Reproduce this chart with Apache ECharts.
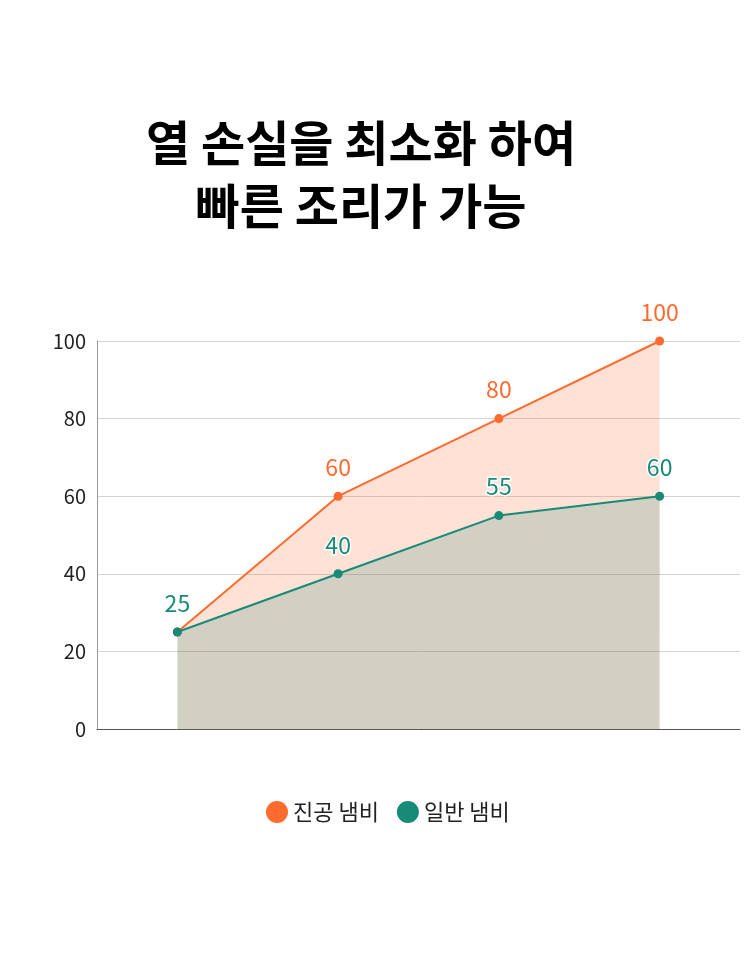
<!DOCTYPE html>
<html lang="ko">
<head>
    <meta charset="UTF-8">
    <title>열 손실을 최소화 하여 빠른 조리가 가능</title>
    <style>
        html, body { margin: 0; padding: 0; background: #fff; }
        div#container { width: 750px; height: 959px; }
    </style>
</head>
<body>
    <div id="container"></div>
    <script src="https://cdn.jsdelivr.net/npm/echarts@6/dist/echarts.min.js"></script>
    <script>
        var categories = ['1', '2', '3', '4'];
        var vacuumPot = [25, 60, 80, 100];   // 진공 냄비
        var normalPot = [25, 40, 55, 60];    // 일반 냄비
        var seriesNames = ['진공 냄비', '일반 냄비'];
        var titleText = '열 손실을 최소화 하여\n빠른 조리가 가능';

        var font = '"Noto Sans CJK KR", "Noto Sans", sans-serif';
        var orange = '#ff6a2e';
        var teal = '#178a78';

        var chart = echarts.init(document.getElementById('container'));

        function lineSeries(name, data, color, z) {
            return {
                name: name,
                type: 'line',
                data: data,
                z: z,
                symbol: 'circle',
                symbolSize: 9,
                lineStyle: { color: color, width: 2 },
                itemStyle: { color: color },
                areaStyle: { color: color, opacity: 0.2 },
                label: {
                    show: true,
                    position: 'top',
                    distance: 13,
                    color: color,
                    fontSize: 23,
                    fontFamily: font,
                    textBorderColor: '#fff',
                    textBorderWidth: 3
                }
            };
        }

        var options = {
            animation: false,
            // 제목은 두 줄 모두 가운데 정렬이 되도록 graphic으로 그림
            graphic: [{
                type: 'text',
                x: 361,
                y: 111,
                style: {
                    text: titleText,
                    textAlign: 'center',
                    textVerticalAlign: 'top',
                    fontFamily: font,
                    fontSize: 48,
                    fontWeight: 'bold',
                    fill: '#000',
                    lineHeight: 63
                }
            }],
            legend: {
                data: seriesNames,
                top: 796,
                left: 261,
                icon: 'circle',
                itemWidth: 22,
                itemHeight: 22,
                itemGap: 18,
                textStyle: { fontFamily: font, fontSize: 22, color: '#222' }
            },
            grid: { left: 97, right: 10, top: 341, bottom: 230 },
            xAxis: {
                type: 'category',
                data: categories,
                boundaryGap: true,
                axisLine: { lineStyle: { color: '#555' } },
                axisTick: { show: false },
                axisLabel: { show: false }
            },
            yAxis: {
                type: 'value',
                min: 0,
                max: 100,
                interval: 20,
                axisLine: { show: true, lineStyle: { color: '#999' } },
                axisTick: { show: false },
                axisLabel: { fontFamily: font, fontSize: 20, color: '#222', margin: 11 },
                splitLine: { lineStyle: { color: '#d4d4d4' } }
            },
            series: [
                lineSeries(seriesNames[0], vacuumPot, orange, 2),
                lineSeries(seriesNames[1], normalPot, teal, 3)
            ]
        };
        chart.setOption(options);
    </script>
</body>
</html>
